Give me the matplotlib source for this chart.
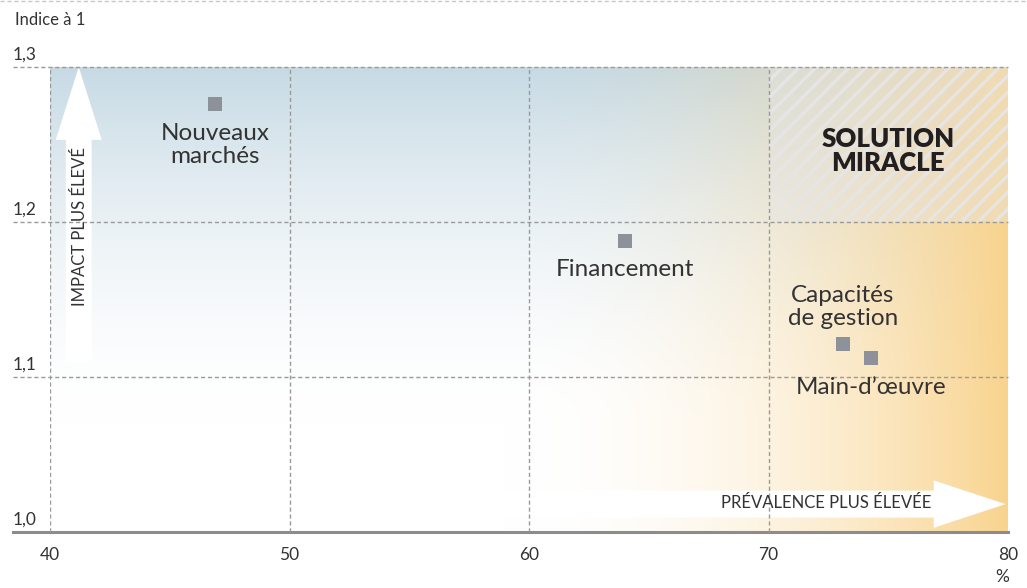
import matplotlib.pyplot as plt
import numpy as np
from matplotlib.patches import Rectangle, FancyArrow

plt.rcParams['font.family'] = ['Lato', 'DejaVu Sans']
plt.rcParams['hatch.linewidth'] = 2.4

# facteurs : prévalence (%) et impact (indice à 1)
facteurs = ['Nouveaux\nmarchés', 'Financement', 'Capacités\nde gestion', 'Main-d’œuvre']
prevalence = [46.9, 64.0, 73.1, 74.3]
impact = [1.276, 1.188, 1.121, 1.112]
position_label = ['dessous', 'dessous', 'dessus', 'dessous']

x_ticks = [40, 50, 60, 70, 80]
y_ticks = [1.0, 1.1, 1.2, 1.3]
y_tick_labels = ['1,0', '1,1', '1,2', '1,3']

texte = '#333333'
grille = '#9a9a9a'

fig = plt.figure(figsize=(10.27, 5.88), dpi=100)
ax = fig.add_axes([50 / 1027, 56 / 588, 958 / 1027, 465 / 588])
ax.set_xlim(40, 80)
ax.set_ylim(1.0, 1.3)
ax.axis('off')

# fond dégradé : bleu en haut, orangé vers la droite
xs = np.linspace(40, 80, 500)
ys = np.linspace(1.0, 1.3, 300)
X, Y = np.meshgrid(xs, ys)
bleu = np.array([0.78, 0.855, 0.895])
orange = np.array([0.975, 0.83, 0.56])
a_b = np.clip((Y - 1.07) / 0.23, 0, 1) ** 1.7
a_o = np.clip((X - 59) / 21, 0, 1) ** 2.0
rgb = np.ones(X.shape + (3,)) * (1 - a_b[..., None]) + bleu * a_b[..., None]
rgb = rgb * (1 - a_o[..., None]) + orange * a_o[..., None]
ax.imshow(rgb, extent=[40, 80, 1.0, 1.3], origin='lower', aspect='auto', zorder=0)

# zone hachurée "solution miracle"
ax.add_patch(Rectangle((70, 1.2), 10, 0.1, facecolor=(0.9, 0.9, 0.9, 0.4),
                       edgecolor=(0.9, 0.9, 0.9, 0.95), hatch='//', lw=0, zorder=1.5))
ax.text(75.0, 1.246, 'SOLUTION\nMIRACLE', ha='center', va='center', fontsize=18.5,
        fontweight='heavy', color='#231f20', linespacing=1.0, zorder=4)

# flèches blanches
ax.add_patch(FancyArrow(41.2, 1.11, 0, 0.19, width=1.08, head_width=1.92, head_length=0.047,
                        length_includes_head=True, color='white', lw=0, zorder=1))
ax.text(41.27, 1.197, 'IMPACT PLUS ÉLEVÉ', rotation=90, ha='center', va='center',
        fontsize=12, color=texte, zorder=4)
ax.add_patch(FancyArrow(40.1, 1.018, 39.8, 0, width=0.0174, head_width=0.0305, head_length=3.0,
                        length_includes_head=True, color='white', lw=0, zorder=1))
ax.text(76.8, 1.0185, 'PRÉVALENCE PLUS ÉLEVÉE', ha='right', va='center',
        fontsize=12, color=texte, zorder=4)

# grille pointillée
x0 = -37 / 958
for y in y_ticks[1:]:
    ax.axhline(y, xmin=x0, xmax=1, color=grille, lw=1, ls=(0, (3, 2)), clip_on=False, zorder=2)
ax.axhline(1.0, xmin=x0, xmax=1, color='#8c8c8c', lw=2.2, clip_on=False, zorder=2)
for x in x_ticks[:-1]:
    ax.axvline(x, ymin=0, ymax=1, color=grille, lw=1, ls=(0, (3, 2)), zorder=2)

for y, lab in zip(y_ticks, y_tick_labels):
    ax.annotate(lab, xy=(x0, y), xycoords=('axes fraction', 'data'), xytext=(0, 3),
                textcoords='offset points', ha='left', va='bottom', fontsize=12.5, color=texte)
for x in x_ticks:
    ax.annotate(str(x), xy=(x, 1.0), xytext=(0, -11), textcoords='offset points',
                ha='center', va='top', fontsize=12.5, color=texte, annotation_clip=False)
ax.annotate('%', xy=(80, 1.0), xytext=(-4, -27), textcoords='offset points',
            ha='center', va='top', fontsize=12.5, color=texte, annotation_clip=False)
fig.text(15 / 1027, 1 - 20 / 588, 'Indice à 1', ha='left', va='center', fontsize=12, color=texte)
fig.add_artist(plt.Line2D([0, 1], [0.999, 0.999], color='#c8c8c8', lw=1, ls=(0, (3, 2))))

# points
ax.scatter(prevalence, impact, marker='s', s=100, c='#8d929a', lw=0, zorder=3)
for nom, px, py, pos in zip(facteurs, prevalence, impact, position_label):
    if pos == 'dessus':
        ax.annotate(nom, xy=(px, py), xytext=(0, 11), textcoords='offset points',
                    ha='center', va='bottom', fontsize=17.5, color=texte, linespacing=1.1, zorder=4)
    else:
        ax.annotate(nom, xy=(px, py), xytext=(0, -13.5), textcoords='offset points',
                    ha='center', va='top', fontsize=17.5, color=texte, linespacing=1.1, zorder=4)

fig.savefig('out.png', dpi=100)
